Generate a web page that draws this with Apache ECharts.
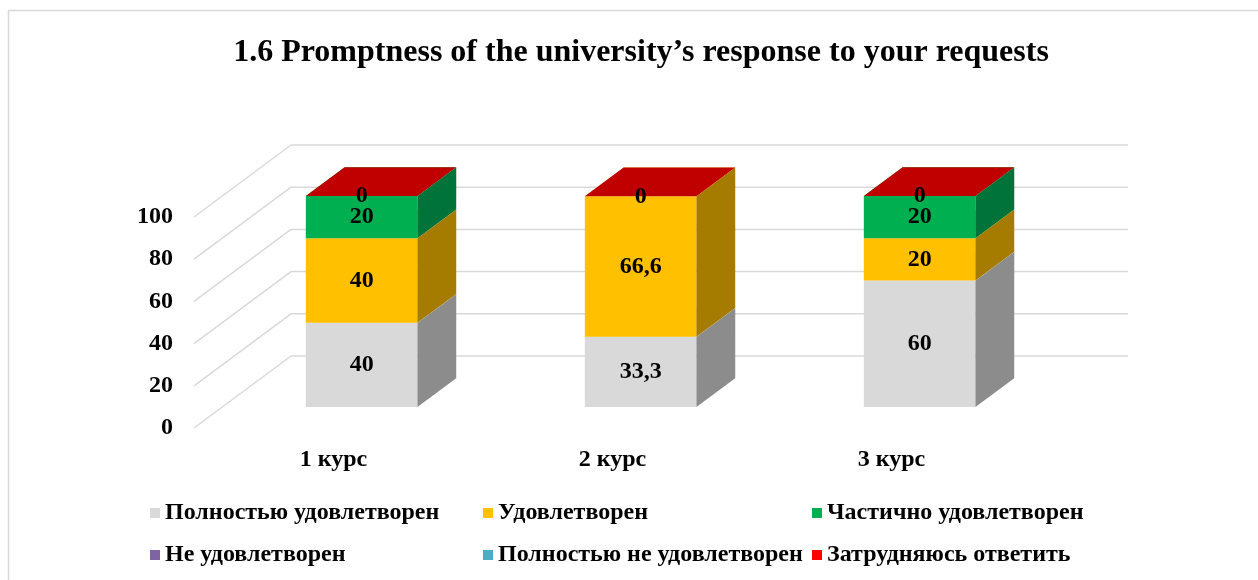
<!DOCTYPE html>
<html>
<head>
<meta charset="utf-8">
<title>1.6 Promptness of the university’s response to your requests</title>
<script src="https://cdn.jsdelivr.net/npm/echarts@6/dist/echarts.min.js"></script>
<style>
    html, body { margin: 0; padding: 0; background: #fff; }
    #chart { width: 1258px; height: 580px; }
</style>
</head>
<body>
<div id="chart"></div>
<script>
    // данные
    var categories = ['1 курс', '2 курс', '3 курс'];
    var seriesNames = ['Полностью удовлетворен', 'Удовлетворен', 'Частично удовлетворен',
        'Не удовлетворен', 'Полностью не удовлетворен', 'Затрудняюсь ответить'];
    var fullSat = [40, 33.3, 60];
    var sat = [40, 66.6, 20];
    var partSat = [20, null, 20];
    var notSat = [null, null, null];
    var fullNotSat = [null, null, null];
    var hardToSay = [0, 0, 0];
    var yTicks = [0, 20, 40, 60, 80, 100];

    var values = [fullSat, sat, partSat, notSat, fullNotSat, hardToSay];
    var fronts = ['#D9D9D9', '#FFC000', '#00B050', '#8064A2', '#4BACC6', '#FF0000'];
    var sides = ['#8C8C8C', '#A67C00', '#00733A', '#533F6C', '#2F7F93', '#A60000'];
    var tops = ['#E8E8E8', '#FFD040', '#00C75A', '#9A80BA', '#6FC1D6', '#C00000'];

    // "3D" коробка
    var DX = 97, DY = -72;       // глубина стенки
    var BAR_W = 0.4;             // доля ширины категории
    var F0 = 0.29, F1 = 0.69;    // передняя/задняя грань столбца по глубине
    var FONT = 'Liberation Serif';

    var myChart = echarts.init(document.getElementById('chart'));

    var wall = {
        type: 'custom',
        silent: true,
        data: yTicks.map(function (v) { return [0, v]; }),
        encode: {x: 0, y: 1},
        renderItem: function (params, api) {
            var cs = params.coordSys;
            var y = api.coord([0, api.value(1)])[1];
            var st = {stroke: '#D9D9D9', lineWidth: 1.5};
            return {
                type: 'group',
                children: [
                    {type: 'line', shape: {x1: cs.x, y1: y, x2: cs.x + DX, y2: y + DY}, style: st},
                    {type: 'line', shape: {x1: cs.x + DX, y1: y + DY, x2: cs.x + DX + cs.width, y2: y + DY}, style: st}
                ]
            };
        }
    };

    var series = [wall];
    var base = [0, 0, 0];
    values.forEach(function (vals, s) {
        var data = [];
        vals.forEach(function (v, i) {
            if (v === null) return;
            data.push([i, base[i], base[i] + v, v]);
            base[i] += v;
        });
        series.push({
            type: 'custom',
            name: seriesNames[s],
            itemStyle: {color: fronts[s]},
            data: data,
            encode: {x: 0, y: [1, 2]},
            renderItem: function (params, api) {
                var c = api.value(0);
                var p0 = api.coord([c, api.value(1)]);
                var p1 = api.coord([c, api.value(2)]);
                var w = api.size([1, 0])[0] * BAR_W;
                var ox = DX * F0, oy = DY * F0;
                var dx = DX * (F1 - F0), dy = DY * (F1 - F0);
                var x0 = p0[0] + ox - w / 2, x1 = x0 + w;
                var yb = p0[1] + oy, yt = p1[1] + oy;
                var label = String(api.value(3)).replace('.', ',');
                return {
                    type: 'group',
                    children: [
                        {type: 'polygon', shape: {points: [[x0, yb], [x1, yb], [x1, yt], [x0, yt]]},
                            style: {fill: fronts[s]}},
                        {type: 'polygon', shape: {points: [[x1, yb], [x1 + dx, yb + dy], [x1 + dx, yt + dy], [x1, yt]]},
                            style: {fill: sides[s]}},
                        {type: 'polygon', shape: {points: [[x0, yt], [x1, yt], [x1 + dx, yt + dy], [x0 + dx, yt + dy]]},
                            style: {fill: tops[s]}},
                        {type: 'text', x: (x0 + x1) / 2, y: (yb + yt) / 2,
                            style: {text: label, fill: '#000', font: 'bold 24px "' + FONT + '"',
                                align: 'center', verticalAlign: 'middle'}}
                    ]
                };
            }
        });
    });

    var legendBase = {
        orient: 'vertical',
        top: 501,
        padding: 0,
        itemGap: 18,
        icon: 'rect',
        itemWidth: 10,
        itemHeight: 10,
        selectedMode: false,
        textStyle: {fontFamily: FONT, fontWeight: 'bold', fontSize: 24, color: '#000'}
    };

    var option = {
        animation: false,
        title: {
            text: '1.6 Promptness of the university’s response to your requests',
            left: 636,
            textAlign: 'center',
            top: 32,
            textStyle: {fontFamily: FONT, fontWeight: 'bold', fontSize: 32, color: '#000'}
        },
        legend: [
            Object.assign({left: 150, data: [seriesNames[0], seriesNames[3]]}, legendBase),
            Object.assign({left: 483, data: [seriesNames[1], seriesNames[4]]}, legendBase),
            Object.assign({left: 812, data: [seriesNames[2], seriesNames[5]]}, legendBase)
        ],
        grid: {left: 194, width: 837, top: 217, height: 211},
        xAxis: {
            type: 'category',
            data: categories,
            axisLine: {show: false},
            axisTick: {show: false},
            axisLabel: {margin: 20, fontFamily: FONT, fontWeight: 'bold', fontSize: 24, color: '#000'}
        },
        yAxis: {
            type: 'value',
            min: 0,
            max: 100,
            interval: 20,
            axisLine: {show: false},
            axisTick: {show: false},
            splitLine: {show: false},
            axisLabel: {margin: 21, fontFamily: FONT, fontWeight: 'bold', fontSize: 24, color: '#000'}
        },
        graphic: [{
            type: 'rect', silent: true, z: -10,
            shape: {x: 8.5, y: 10.5, width: 1400, height: 700},
            style: {fill: 'none', stroke: '#D9D9D9', lineWidth: 1.5}
        }],
        series: series
    };

    myChart.setOption(option);
</script>
</body>
</html>
